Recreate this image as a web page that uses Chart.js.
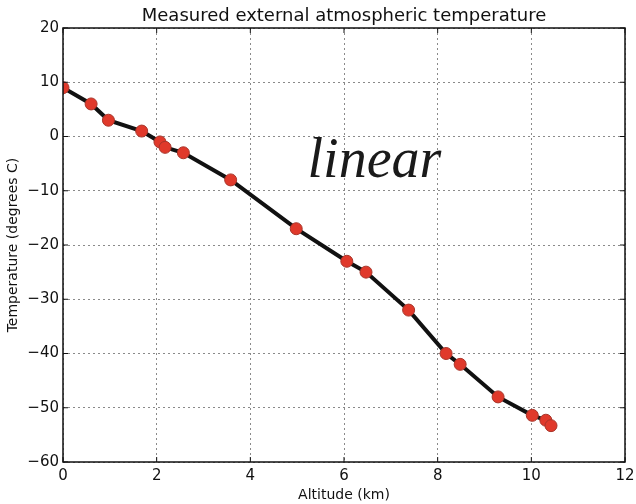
<!DOCTYPE html>
<html>
<head>
<meta charset="utf-8">
<script src="https://cdn.jsdelivr.net/npm/chart.js@4.4.0/dist/chart.umd.min.js"></script>
<style>
  html, body { margin: 0; padding: 0; background: #fff; }
  #wrap { width: 636px; height: 504px; }
</style>
</head>
<body>
<div id="wrap"><canvas id="chart"></canvas></div>
<script>
// altitude (km) and measured temperature (degrees C)
const altitude = [0, 0.6, 0.97, 1.68, 2.07, 2.18, 2.57, 3.58, 4.98, 6.06, 6.47, 7.38, 8.18, 8.48, 9.29, 10.02, 10.31, 10.42];
const temperature = [9, 6, 3, 1, -1, -2, -3, -8, -17, -23, -25, -32, -40, -42, -48, -51.4, -52.3, -53.3];
const xTicks = [0, 2, 4, 6, 8, 10, 12];
const yTicks = [20, 10, 0, -10, -20, -30, -40, -50, -60];
const chartTitle = 'Measured external atmospheric temperature';
const note = { text: 'linear', x: 6.65, y: -4.8 };

const points = altitude.map((a, i) => ({ x: a, y: temperature[i] }));
const fontFamily = "'DejaVu Sans', sans-serif";

const minus = v => String(v).replace('-', '\u2212');

// box round the plot, inward ticks, title over the plot and the hand-written note
const frame = {
    id: 'frame',
    afterDraw(chart) {
        const { ctx, chartArea: { top, bottom, left, right }, scales: { x, y } } = chart;
        ctx.save();
        ctx.strokeStyle = '#111';
        ctx.lineWidth = 1.5;
        ctx.strokeRect(left, top, right - left, bottom - top);
        ctx.lineWidth = 1;
        ctx.beginPath();
        for (const t of xTicks) {
            const px = x.getPixelForValue(t);
            ctx.moveTo(px, bottom); ctx.lineTo(px, bottom - 5);
            ctx.moveTo(px, top); ctx.lineTo(px, top + 5);
        }
        for (const t of yTicks) {
            const py = y.getPixelForValue(t);
            ctx.moveTo(left, py); ctx.lineTo(left + 5, py);
            ctx.moveTo(right, py); ctx.lineTo(right - 5, py);
        }
        ctx.stroke();

        ctx.fillStyle = '#111';
        ctx.font = "18px " + fontFamily;
        ctx.textAlign = 'center';
        ctx.textBaseline = 'bottom';
        ctx.fillText(chartTitle, (left + right) / 2, top - 3);
        ctx.restore();
    },
    beforeDatasetsDraw(chart) {
        const { ctx, scales: { x, y } } = chart;
        ctx.save();
        ctx.fillStyle = '#1a1a1a';
        ctx.font = "italic 56px 'Liberation Serif', serif";
        ctx.textAlign = 'center';
        ctx.textBaseline = 'middle';
        ctx.fillText(note.text, x.getPixelForValue(note.x), y.getPixelForValue(note.y));
        ctx.restore();
    }
};

new Chart(document.getElementById('chart'), {
    type: 'scatter',
    data: {
        datasets: [{
            data: points,
            showLine: true,
            borderColor: '#111',
            borderWidth: 4,
            pointRadius: 6,
            pointBackgroundColor: '#e0392b',
            pointBorderColor: '#a8352a',
            pointBorderWidth: 1,
            tension: 0
        }]
    },
    plugins: [frame],
    options: {
        responsive: true,
        maintainAspectRatio: false,
        animation: false,
        layout: {
            padding: { top: 28, right: 11, bottom: 0, left: 0 }
        },
        scales: {
            x: {
                type: 'linear',
                min: 0,
                max: 12,
                afterBuildTicks: (s) => { s.ticks = xTicks.map(v => ({ value: v })); },
                afterFit: (s) => { s.height = 42; s.paddingRight = 0; s.paddingLeft = 0; },
                grid: {
                    color: '#8a8a8a',
                    lineWidth: 1,
                    drawTicks: false
                },
                border: { display: false, dash: [2, 3] },
                ticks: {
                    color: '#111',
                    padding: 5,
                    maxRotation: 0,
                    font: { family: fontFamily, size: 15 },
                    callback: v => minus(v)
                },
                title: {
                    display: true,
                    text: 'Altitude (km)',
                    color: '#111',
                    padding: 0,
                    font: { family: fontFamily, size: 14 }
                }
            },
            y: {
                type: 'linear',
                min: -60,
                max: 20,
                afterBuildTicks: (s) => { s.ticks = yTicks.map(v => ({ value: v })); },
                afterFit: (s) => { s.width = 63; },
                grid: {
                    color: '#8a8a8a',
                    lineWidth: 1,
                    drawTicks: false
                },
                border: { display: false, dash: [2, 3] },
                ticks: {
                    color: '#111',
                    padding: 4,
                    font: { family: fontFamily, size: 15 },
                    callback: v => minus(v)
                },
                title: {
                    display: true,
                    text: 'Temperature (degrees C)',
                    color: '#111',
                    padding: { top: 5 },
                    font: { family: fontFamily, size: 14 }
                }
            }
        },
        plugins: {
            legend: { display: false },
            tooltip: { enabled: false },
            title: { display: false }
        }
    }
});
</script>
</body>
</html>
